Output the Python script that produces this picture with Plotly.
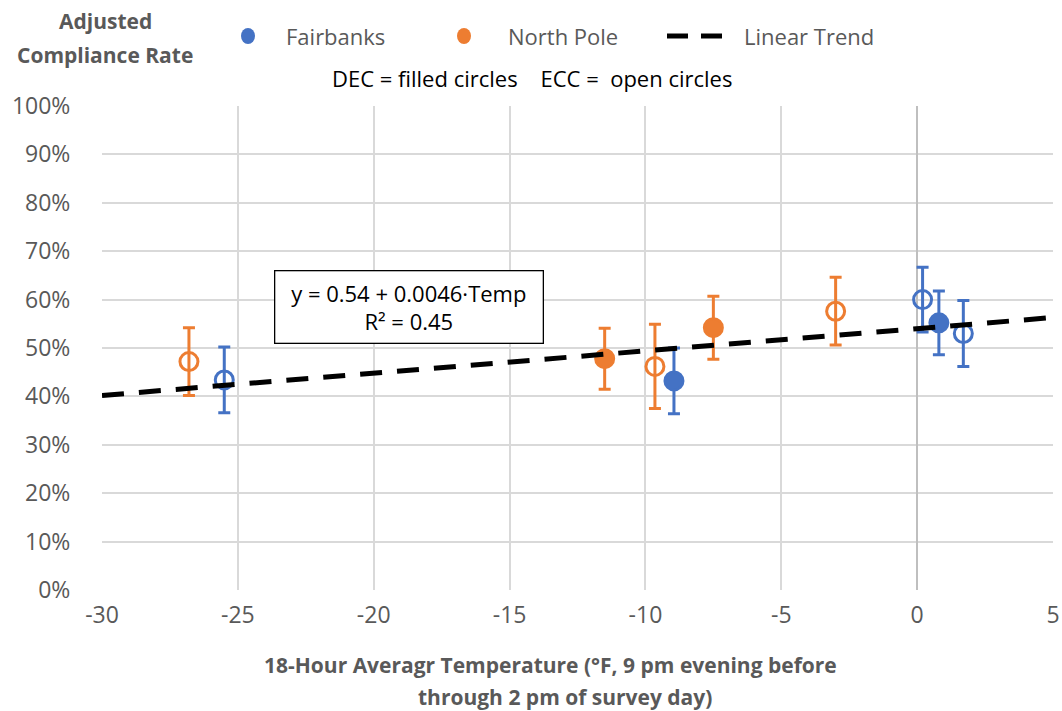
import plotly.graph_objects as go

# Fairbanks
fb_temp = [-25.5, -8.95, 0.2, 0.8, 1.7]
fb_rate = [0.434, 0.432, 0.600, 0.552, 0.530]
fb_err = [0.068, 0.068, 0.067, 0.066, 0.068]
fb_type = ["ECC", "DEC", "ECC", "DEC", "ECC"]

# North Pole
np_temp = [-26.8, -11.5, -9.65, -7.5, -3.0]
np_rate = [0.472, 0.478, 0.462, 0.542, 0.576]
np_err = [0.070, 0.063, 0.087, 0.065, 0.070]
np_type = ["ECC", "DEC", "ECC", "DEC", "ECC"]

trend_intercept = 0.54
trend_slope = 0.0046
trend_x = [-30, 5]
trend_y = [trend_intercept + trend_slope * t for t in trend_x]

x_ticks = [-30, -25, -20, -15, -10, -5, 0, 5]
x_ticklabels = ["-30", "-25", "-20", "-15", "-10", "-5", "0", "5"]

BLUE = "#4472C4"
ORANGE = "#ED7D31"
FONT = "Open Sans"
GRAY = "#595959"

W, H = 1062, 711
L, R, T, B = 102, 1053, 106, 590


def px(xp):
    return (xp - L) / (R - L)


def py(yp):
    return (B - yp) / (B - T)


def sym(types):
    return ["circle-open" if t == "ECC" else "circle" for t in types]


fig = go.Figure()

for temps, rates, errs, types, color, name in [
    (fb_temp, fb_rate, fb_err, fb_type, BLUE, "Fairbanks"),
    (np_temp, np_rate, np_err, np_type, ORANGE, "North Pole"),
]:
    fig.add_trace(go.Scatter(
        x=temps, y=rates, mode="markers", showlegend=False, name=name,
        marker=dict(symbol=sym(types), size=18, color=color, line=dict(width=3, color=color)),
        error_y=dict(type="data", array=errs, visible=True, color=color, thickness=3, width=6),
    ))

fig.add_trace(go.Scatter(
    x=trend_x, y=trend_y, mode="lines", showlegend=False, name="Linear Trend",
    line=dict(color="black", width=5, dash="22px,15px"),
))

fig.update_layout(
    width=W, height=H,
    margin=dict(l=L, r=W - R, t=T, b=H - B, autoexpand=False),
    paper_bgcolor="white", plot_bgcolor="white",
    font=dict(family=FONT, color=GRAY, size=23),
    showlegend=False,
    xaxis=dict(range=[-30, 5], tickvals=x_ticks, ticktext=x_ticklabels,
               showgrid=True, gridcolor="#d9d9d9", gridwidth=1.8,
               zeroline=True, zerolinecolor="#bfbfbf", zerolinewidth=2.2,
               showline=False, ticks="outside", ticklen=4, tickcolor="rgba(0,0,0,0)",
               tickfont=dict(size=23, color=GRAY, family=FONT)),
    yaxis=dict(range=[0, 1], dtick=0.1, tickformat=".0%", showgrid=True, gridcolor="#d9d9d9",
               gridwidth=1.8, zeroline=False, showline=False,
               ticks="outside", ticklen=26, tickcolor="rgba(0,0,0,0)",
               tickfont=dict(size=23, color=GRAY, family=FONT)),
)

# manual legend
fig.add_shape(type="circle", xref="paper", yref="paper", xsizemode="pixel", ysizemode="pixel",
              xanchor=px(248), yanchor=py(36), x0=-7, x1=7, y0=-8, y1=8,
              fillcolor=BLUE, line=dict(width=0))
fig.add_shape(type="circle", xref="paper", yref="paper", xsizemode="pixel", ysizemode="pixel",
              xanchor=px(464), yanchor=py(36), x0=-7, x1=7, y0=-8, y1=8,
              fillcolor=ORANGE, line=dict(width=0))
for a, b in [(667, 688), (701, 722)]:
    fig.add_shape(type="line", xref="paper", yref="paper",
                  x0=px(a), x1=px(b), y0=py(36), y1=py(36),
                  line=dict(color="black", width=5))
for txt, xs in [("Fairbanks", 284), ("North Pole", 506), ("Linear Trend", 742)]:
    fig.add_annotation(xref="paper", yref="paper", x=px(xs), y=py(36), xanchor="left",
                       yanchor="middle", text=txt, showarrow=False,
                       font=dict(size=22, color=GRAY, family=FONT))

fig.add_annotation(xref="paper", yref="paper", x=px(105), y=py(21), xanchor="center",
                   yanchor="middle", text="<b>Adjusted</b>", showarrow=False,
                   font=dict(size=21, color=GRAY, family=FONT))
fig.add_annotation(xref="paper", yref="paper", x=px(105), y=py(55), xanchor="center",
                   yanchor="middle", text="<b>Compliance Rate</b>", showarrow=False,
                   font=dict(size=21, color=GRAY, family=FONT))
fig.add_annotation(xref="paper", yref="paper", x=px(532), y=py(78), xanchor="center",
                   yanchor="middle", text="DEC = filled circles    ECC =  open circles",
                   showarrow=False, font=dict(size=22, color="black", family=FONT))

fig.add_annotation(xref="paper", yref="paper", x=px(550), y=py(665), xanchor="center",
                   yanchor="middle",
                   text="<b>18-Hour Averagr Temperature (°F, 9 pm evening before</b>",
                   showarrow=False, font=dict(size=21, color=GRAY, family=FONT))
fig.add_annotation(xref="paper", yref="paper", x=px(565), y=py(697), xanchor="center",
                   yanchor="middle", text="<b>through 2 pm of survey day)</b>",
                   showarrow=False, font=dict(size=21, color=GRAY, family=FONT))

fig.add_annotation(xref="paper", yref="paper", x=px(408.5), y=py(306.5), xanchor="center",
                   yanchor="middle", text="y = 0.54 + 0.0046·Temp<br>R² = 0.45",
                   showarrow=False, width=265, height=69, borderpad=1,
                   font=dict(size=22, color="black", family=FONT), align="center",
                   bordercolor="black", borderwidth=1.3, bgcolor="white")

fig.write_html("out.html")
